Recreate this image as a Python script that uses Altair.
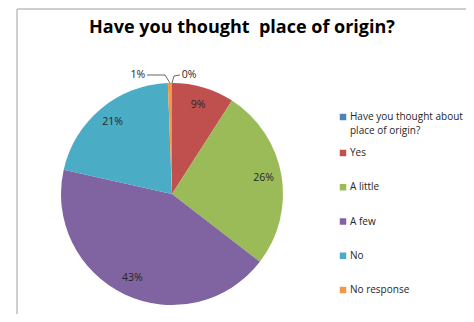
import altair as alt
import pandas as pd

categories = ["Have you thought about place of origin?", "Yes", "A little", "A few", "No", "No response"]
values = [0.0, 9.1, 26.4, 43.1, 20.9, 0.6]
colors = ["#4F81BD", "#C0504D", "#9BBB59", "#8064A2", "#4BACC6", "#F79646"]
legend_line1 = ["Have you thought about", "Yes", "A little", "A few", "No", "No response"]
legend_line2 = ["place of origin?", "", "", "", "", ""]
title_text = "Have you thought\u00a0 place of origin?"

df = pd.DataFrame({"category": categories, "value": values, "order": list(range(len(categories)))})
leg = pd.DataFrame({"category": categories, "l1": legend_line1, "l2": legend_line2, "idx": list(range(len(categories)))})

CX, CY, R = 164, 186, 111
FONT = "Open Sans"
TXT = "#262626"
color_scale = alt.Scale(domain=categories, range=colors)

base = alt.Chart(df).transform_joinaggregate(
    total="sum(value)"
).transform_calculate(
    pct="datum.value / datum.total"
)

theta = alt.Theta("value:Q", stack=True)
order = alt.Order("order:Q")

pie = base.mark_arc(radius=R).encode(
    theta=theta,
    order=order,
    x=alt.value(CX),
    y=alt.value(CY),
    color=alt.Color("category:N", scale=color_scale, legend=None),
)

inside = base.transform_calculate(
    lab="datum.pct >= 0.02 ? format(datum.pct, '.0%') : ''"
).mark_text(radius=93, font=FONT, fontSize=10.5, color=TXT).encode(
    theta=theta, order=order, x=alt.value(CX), y=alt.value(CY), text="lab:N"
)

out_first = base.transform_calculate(
    lab="datum.order == 0 ? format(datum.pct, '.0%') : ''"
).mark_text(radius=119, dx=17, font=FONT, fontSize=10.5, color=TXT).encode(
    theta=theta, order=order, x=alt.value(CX), y=alt.value(CY), text="lab:N"
)

out_last = base.transform_calculate(
    lab="datum.order == 5 ? format(datum.pct, '.0%') : ''"
).mark_text(radius=119, dx=-32, font=FONT, fontSize=10.5, color=TXT).encode(
    theta=theta, order=order, x=alt.value(CX), y=alt.value(CY), text="lab:N"
)

# custom legend (first entry wraps onto two lines)
leg_y = alt.Y("idx:Q", scale=alt.Scale(domain=[0, 1, 5], range=[109, 145, 282]), axis=None)
leg_sym = alt.Chart(leg).mark_square(size=42, opacity=1).encode(
    x=alt.value(335), y=leg_y, color=alt.Color("category:N", scale=color_scale, legend=None)
)
leg_t1 = alt.Chart(leg).mark_text(align="left", baseline="middle", font=FONT, fontSize=10, color=TXT).encode(
    x=alt.value(342), y=leg_y, text="l1:N"
)
leg_t2 = alt.Chart(leg).mark_text(align="left", baseline="middle", dy=14, font=FONT, fontSize=10, color=TXT).encode(
    x=alt.value(342), y=leg_y, text="l2:N"
)

one = pd.DataFrame({"k": [0]})
title = alt.Chart(one).mark_text(font=FONT, fontSize=18, fontWeight="bold", color="#000000", baseline="alphabetic").encode(
    x=alt.value(234), y=alt.value(25), text=alt.value(title_text)
)

border_left = alt.Chart(one).mark_rule(color="#BFBFBF", strokeWidth=1.5).encode(
    x=alt.value(9), y=alt.value(1), y2=alt.value(306)
)
border_top = alt.Chart(one).mark_rule(color="#BFBFBF", strokeWidth=1.5).encode(
    x=alt.value(9), x2=alt.value(458), y=alt.value(1)
)

lead_style = dict(color="#404040", strokeWidth=0.8)
l1a = alt.Chart(one).mark_rule(**lead_style).encode(x=alt.value(139), x2=alt.value(157), y=alt.value(67), y2=alt.value(67))
l1b = alt.Chart(one).mark_rule(**lead_style).encode(x=alt.value(157), x2=alt.value(162), y=alt.value(67), y2=alt.value(75))
l2a = alt.Chart(one).mark_rule(**lead_style).encode(x=alt.value(164), x2=alt.value(166), y=alt.value(75), y2=alt.value(68))
l2b = alt.Chart(one).mark_rule(**lead_style).encode(x=alt.value(166), x2=alt.value(172), y=alt.value(68), y2=alt.value(67))

chart = alt.layer(
    border_left, border_top, pie, inside, out_first, out_last, l1a, l1b, l2a, l2b,
    leg_sym, leg_t1, leg_t2, title
).properties(
    width=458, height=306, autosize=alt.AutoSizeParams(type="none"), padding=0, background="white"
).configure_view(strokeWidth=0)

chart.save("out.html", embed_options={"renderer": "svg", "actions": False})
